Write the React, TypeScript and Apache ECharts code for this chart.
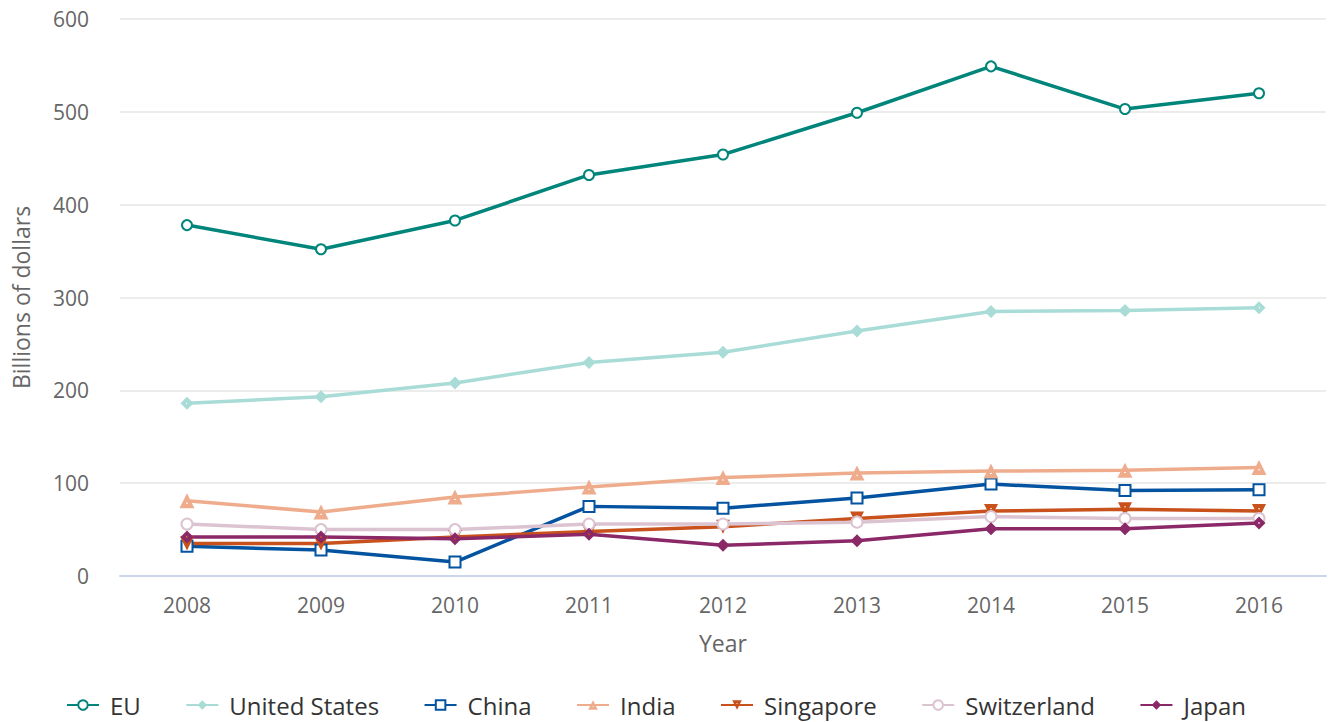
import React, { useEffect, useRef } from "react";
import * as echarts from "echarts";

const years = ["2008", "2009", "2010", "2011", "2012", "2013", "2014", "2015", "2016"];
const eu = [378, 352, 383, 432, 454, 499, 549, 503, 520];
const us = [186, 193, 208, 230, 241, 264, 285, 286, 289];
const china = [32, 28, 15, 75, 73, 84, 99, 92, 93];
const india = [81, 69, 85, 96, 106, 111, 113, 114, 117];
const singapore = [35, 35, 42, 48, 53, 62, 70, 72, 70];
const switzerland = [56, 50, 50, 56, 56, 58, 64, 62, 62];
const japan = [42, 42, 40, 45, 33, 38, 51, 51, 57];

const diamondDot = "path://M5,0 L10,5 L5,10 L0,5 Z M5,4.1 L4.1,5 L5,5.9 L5.9,5 Z";
const triangleDot = "path://M5,0 L10,9 L0,9 Z M5,5 L4.2,6.2 L5.8,6.2 Z";
const invTriangleDot = "path://M0,0 L10,0 L5,9 Z M4.2,2.8 L5,4 L5.8,2.8 Z";

const seriesDefs = [
  { name: "EU", data: eu, color: "#00857a", symbol: "emptyCircle", size: 10, border: 3 },
  { name: "United States", data: us, color: "#a9dcd6", symbol: diamondDot, size: 13, border: 0 },
  { name: "China", data: china, color: "#0353a0", symbol: "emptyRect", size: 11, border: 3.5 },
  { name: "India", data: india, color: "#efac8d", symbol: triangleDot, size: 15, border: 0 },
  { name: "Singapore", data: singapore, color: "#c8511c", symbol: invTriangleDot, size: 14, border: 0 },
  { name: "Switzerland", data: switzerland, color: "#dcc3d1", symbol: "emptyCircle", size: 11, border: 3 },
  { name: "Japan", data: japan, color: "#8b2867", symbol: diamondDot, size: 13, border: 0 },
];

export default function App() {
  const ref = useRef<HTMLDivElement>(null);
  useEffect(() => {
    if (!ref.current) return;
    const chart = echarts.init(ref.current, undefined, { renderer: "svg" });
    const font = "'Open Sans', 'Noto Sans', sans-serif";
    chart.setOption({
      animation: false,
      textStyle: { fontFamily: font },
      grid: { left: 120, right: 5, top: 19, bottom: 146 },
      legend: {
        left: 66,
        top: 693,
        padding: 0,
        itemGap: 44.5,
        itemWidth: 32,
        itemHeight: 12,
        textStyle: { fontSize: 24, color: "#333333", fontFamily: font, padding: [0, 0, 0, 6] },
        data: seriesDefs.map((s) => s.name),
      },
      xAxis: {
        type: "category",
        data: years,
        boundaryGap: true,
        name: "Year",
        nameLocation: "middle",
        nameGap: 55,
        nameTextStyle: { fontSize: 23, color: "#666666", fontFamily: font },
        axisLine: { lineStyle: { color: "#ccd6eb", width: 2 } },
        axisTick: { alignWithLabel: true, length: 10, lineStyle: { color: "#ccd6eb", width: 1.5 } },
        axisLabel: { fontSize: 21, color: "#666666", margin: 18, fontFamily: font },
      },
      yAxis: {
        type: "value",
        min: 0,
        max: 600,
        interval: 100,
        name: "Billions of dollars",
        nameLocation: "middle",
        nameGap: 88,
        nameTextStyle: { fontSize: 23, color: "#666666", fontFamily: font },
        axisLine: { show: false },
        axisTick: { show: false },
        axisLabel: { fontSize: 21, color: "#666666", margin: 31, fontFamily: font },
        splitLine: { lineStyle: { color: "#e6e6e6", width: 1.5 } },
      },
      series: seriesDefs.map((s) => ({
        name: s.name,
        type: "line",
        data: s.data,
        symbol: s.symbol,
        symbolSize: s.size,
        showSymbol: true,
        color: s.color,
        lineStyle: { color: s.color, width: 3.5 },
        itemStyle: { color: s.color, borderColor: s.color, borderWidth: s.border },
        emphasis: { disabled: true },
      })),
    });
    return () => chart.dispose();
  }, []);
  return <div ref={ref} style={{ position: "absolute", left: 0, top: 0, width: 1331, height: 722 }} />;
}
